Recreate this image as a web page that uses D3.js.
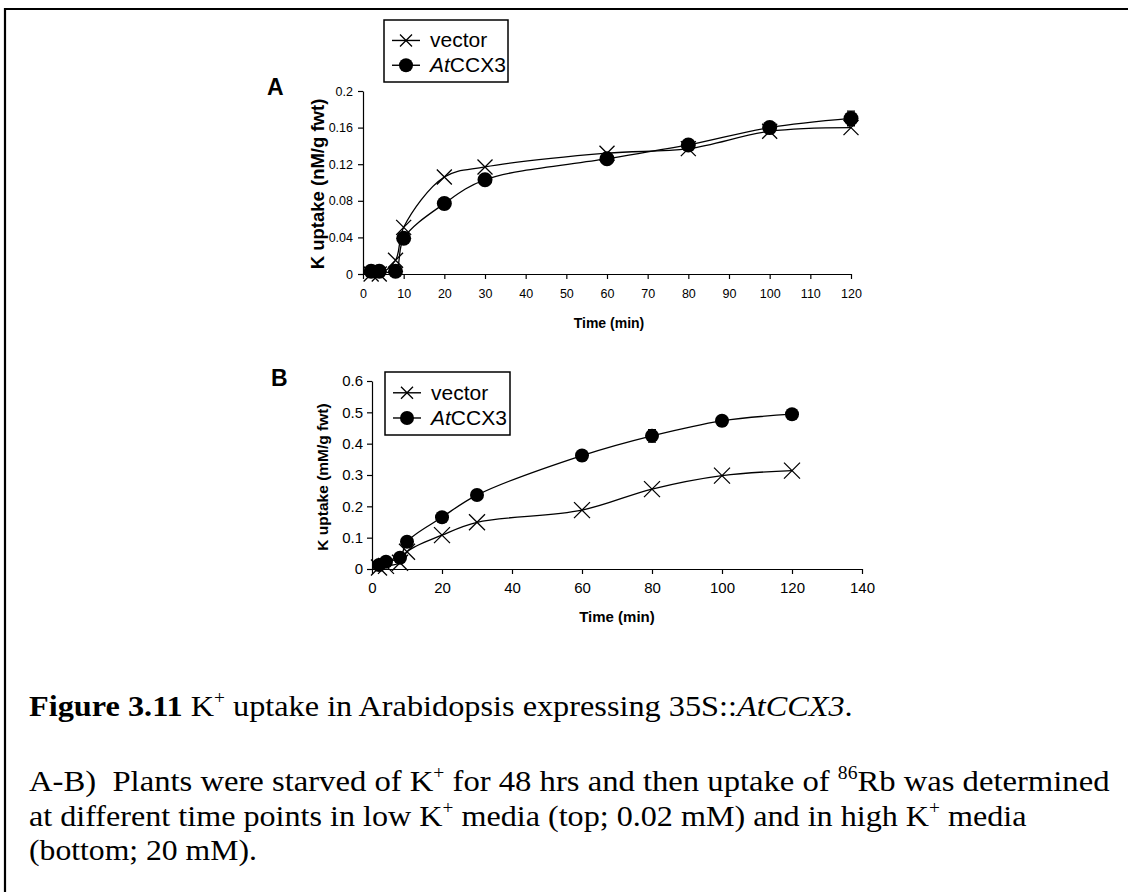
<!DOCTYPE html>
<html lang="en">
<head>
<meta charset="utf-8">
<script src="https://d3js.org/d3.v7.min.js"></script>
<style>
body { margin: 0; background: #fff; }
svg text { font-family: "Liberation Sans", Arial, sans-serif; fill: #000; }
.caption text { font-family: "Liberation Serif", "Times New Roman", serif; white-space: pre; }
</style>
</head>
<body>
<div id="chart"></div>
<script>
// time points (min)
var times = [2, 4, 8, 10, 20, 30, 60, 80, 100, 120];

// panel A: low K+ (nM/g fwt)
var vectorA  = [0.000, 0.000, 0.015, 0.051, 0.106, 0.117, 0.132, 0.137, 0.156, 0.160];
var ccx3A    = [0.003, 0.003, 0.003, 0.039, 0.077, 0.103, 0.126, 0.141, 0.160, 0.170];
var ccx3AErr = [0.001, 0.001, 0.001, 0.004, 0.006, 0.003, 0.003, 0.003, 0.004, 0.008];

// panel B: high K+ (mM/g fwt)
var vectorB  = [0.005, 0.010, 0.020, 0.055, 0.108, 0.149, 0.188, 0.255, 0.298, 0.314];
var ccx3B    = [0.013, 0.023, 0.036, 0.087, 0.165, 0.236, 0.362, 0.425, 0.473, 0.494];
var ccx3BErr = [0.004, 0.004, 0.005, 0.008, 0.010, 0.012, 0.016, 0.020, 0.016, 0.010];

var ticksXA = d3.range(0, 121, 10);
var ticksYA = [0, 0.04, 0.08, 0.12, 0.16, 0.2];
var ticksXB = d3.range(0, 141, 20);
var ticksYB = [0, 0.1, 0.2, 0.3, 0.4, 0.5, 0.6];

var W = 1128, H = 892;
var svg = d3.select("#chart").append("svg")
    .attr("width", W).attr("height", H);

// page frame (top + left edges visible)
svg.append("line").attr("x1", 4).attr("x2", W).attr("y1", 9).attr("y2", 9)
    .attr("stroke", "#000").attr("stroke-width", 2.2);
svg.append("line").attr("x1", 5).attr("x2", 5).attr("y1", 8).attr("y2", H)
    .attr("stroke", "#000").attr("stroke-width", 2.2);

function xMarker(g, x, y, s) {
    g.append("path")
        .attr("d", "M" + (x - s) + "," + (y - s) + "L" + (x + s) + "," + (y + s) +
                   "M" + (x - s) + "," + (y + s) + "L" + (x + s) + "," + (y - s))
        .attr("stroke", "#000").attr("stroke-width", 1.3).attr("fill", "none");
}

function drawPanel(opt) {
    var g = svg.append("g");
    var x = d3.scaleLinear().domain(opt.xDomain).range([opt.left, opt.right]);
    var y = d3.scaleLinear().domain(opt.yDomain).range([opt.bottom, opt.top]);

    // axes
    g.append("g")
        .attr("transform", "translate(0," + opt.bottom + ")")
        .call(d3.axisBottom(x).tickValues(opt.xTicks).tickSize(5).tickSizeOuter(0)
            .tickPadding(opt.xPad).tickFormat(d3.format("d")))
        .call(function(a) {
            a.selectAll("line,path").attr("stroke", "#000").attr("stroke-width", 1.2);
            a.selectAll("text").attr("font-size", opt.tickSize);
        });
    g.append("g")
        .attr("transform", "translate(" + opt.left + ",0)")
        .call(d3.axisLeft(y).tickValues(opt.yTicks).tickSize(5).tickSizeOuter(0)
            .tickPadding(opt.yPad).tickFormat(function(d) { return String(+d.toFixed(2)); }))
        .call(function(a) {
            a.selectAll("line,path").attr("stroke", "#000").attr("stroke-width", 1.2);
            a.selectAll("text").attr("font-size", opt.tickSize);
        });

    // axis titles
    g.append("text")
        .attr("x", opt.xTitleX).attr("y", opt.xTitleY)
        .attr("text-anchor", "middle").attr("font-size", opt.xTitleSize).attr("font-weight", "bold")
        .text("Time (min)");
    g.append("text")
        .attr("transform", "translate(" + opt.yTitleX + "," + opt.yTitleY + ") rotate(-90)")
        .attr("text-anchor", "middle").attr("font-size", opt.yTitleSize).attr("font-weight", "bold")
        .text(opt.yTitle);

    // panel letter
    g.append("text").attr("x", opt.letterX).attr("y", opt.letterY)
        .attr("font-size", 23).attr("font-weight", "bold").text(opt.letter);

    var line = d3.line()
        .x(function(d) { return x(d[0]); })
        .y(function(d) { return y(d[1]); })
        .curve(d3.curveCatmullRom.alpha(0.5));

    var vec = times.map(function(t, i) { return [t, opt.vector[i]]; });
    var cc = times.map(function(t, i) { return [t, opt.ccx3[i], opt.err[i]]; });

    g.append("path").datum(vec).attr("d", line)
        .attr("fill", "none").attr("stroke", "#000").attr("stroke-width", 1.3);
    g.append("path").datum(cc).attr("d", line)
        .attr("fill", "none").attr("stroke", "#000").attr("stroke-width", 1.3);

    // error bars
    cc.forEach(function(d) {
        var cx = x(d[0]);
        g.append("path")
            .attr("d", "M" + cx + "," + y(d[1] - d[2]) + "V" + y(d[1] + d[2]) +
                       "M" + (cx - 4) + "," + y(d[1] + d[2]) + "H" + (cx + 4) +
                       "M" + (cx - 4) + "," + y(d[1] - d[2]) + "H" + (cx + 4))
            .attr("stroke", "#000").attr("stroke-width", 1.3);
    });

    vec.forEach(function(d) { xMarker(g, x(d[0]), y(d[1]), opt.xSize); });

    g.selectAll("circle.pt").data(cc).enter().append("circle")
        .attr("class", "pt")
        .attr("cx", function(d) { return x(d[0]); })
        .attr("cy", function(d) { return y(d[1]); })
        .attr("r", opt.r).attr("fill", "#000");

    // legend
    var lg = g.append("g").attr("transform", "translate(" + opt.legX + "," + opt.legY + ")");
    lg.append("rect").attr("width", opt.legW).attr("height", opt.legH)
        .attr("fill", "#fff").attr("stroke", "#000").attr("stroke-width", 1.5);
    [["vector", false], ["AtCCX3", true]].forEach(function(item, i) {
        var yy = opt.legH * 0.33 + i * opt.legH * 0.4;
        lg.append("line").attr("x1", 8).attr("x2", 36).attr("y1", yy).attr("y2", yy)
            .attr("stroke", "#000").attr("stroke-width", 1.4);
        if (item[1]) {
            lg.append("circle").attr("cx", 22).attr("cy", yy).attr("r", 7).attr("fill", "#000");
        } else {
            xMarker(lg, 22, yy, 6);
        }
        var t = lg.append("text").attr("x", 46).attr("y", yy + 7).attr("font-size", 21);
        if (item[1]) {
            t.append("tspan").attr("font-style", "italic").text("At");
            t.append("tspan").text("CCX3");
        } else {
            t.text(item[0]);
        }
    });
}

drawPanel({
    xDomain: [0, 120], yDomain: [0, 0.2],
    left: 363, right: 851, top: 91, bottom: 274,
    xTicks: ticksXA, yTicks: ticksYA, tickSize: 12.5, xPad: 10, yPad: 5,
    vector: vectorA, ccx3: ccx3A, err: ccx3AErr, xSize: 7.5, r: 7.5,
    xTitleX: 609, xTitleY: 328, xTitleSize: 14,
    yTitle: "K uptake (nM/g fwt)", yTitleX: 324, yTitleY: 184, yTitleSize: 18.5,
    letter: "A", letterX: 267, letterY: 95,
    legX: 384, legY: 20, legW: 124, legH: 62
});

drawPanel({
    xDomain: [0, 140], yDomain: [0, 0.6],
    left: 372, right: 862, top: 381, bottom: 569,
    xTicks: ticksXB, yTicks: ticksYB, tickSize: 15, xPad: 8, yPad: 4,
    vector: vectorB, ccx3: ccx3B, err: ccx3BErr, xSize: 8, r: 7,
    xTitleX: 617, xTitleY: 622, xTitleSize: 15,
    yTitle: "K uptake (mM/g fwt)", yTitleX: 328, yTitleY: 477, yTitleSize: 15.5,
    letter: "B", letterX: 271, letterY: 386,
    legX: 385, legY: 372, legW: 125, legH: 63
});

// caption
var cap = svg.append("g").attr("class", "caption");
var fs = 30;

function capLine(yBase, width) {
    var t = cap.append("text").attr("x", 0).attr("y", 0).attr("font-size", fs);
    t.attr("data-w", width).attr("data-y", yBase);
    return t;
}
function sup(t, s) {
    t.append("tspan").attr("dy", -12).attr("font-size", 18).text(s);
}

var l1 = capLine(716, 824);
l1.append("tspan").attr("font-weight", "bold").text("Figure 3.11");
l1.append("tspan").text(" K");
sup(l1, "+");
l1.append("tspan").attr("dy", 12).text(" uptake in Arabidopsis expressing 35S::");
l1.append("tspan").attr("font-style", "italic").text("AtCCX3");
l1.append("tspan").text(".");

var l2 = capLine(791, 1081);
l2.append("tspan").text("A-B)  Plants were starved of K");
sup(l2, "+");
l2.append("tspan").attr("dy", 12).text(" for 48 hrs and then uptake of ");
sup(l2, "86");
l2.append("tspan").attr("dy", 12).text("Rb was determined");

var l3 = capLine(826, 998);
l3.append("tspan").text("at different time points in low K");
sup(l3, "+");
l3.append("tspan").attr("dy", 12).text(" media (top; 0.02 mM) and in high K");
sup(l3, "+");
l3.append("tspan").attr("dy", 12).text(" media");

var l4 = capLine(860, 228);
l4.text("(bottom; 20 mM).");

// fit each caption line to its measured width
cap.selectAll("text").each(function() {
    var el = d3.select(this);
    var w = this.getBBox().width;
    var sx = +el.attr("data-w") / w;
    el.attr("transform", "translate(29," + el.attr("data-y") + ") scale(" + sx + ",1)");
});
</script>
</body>
</html>
